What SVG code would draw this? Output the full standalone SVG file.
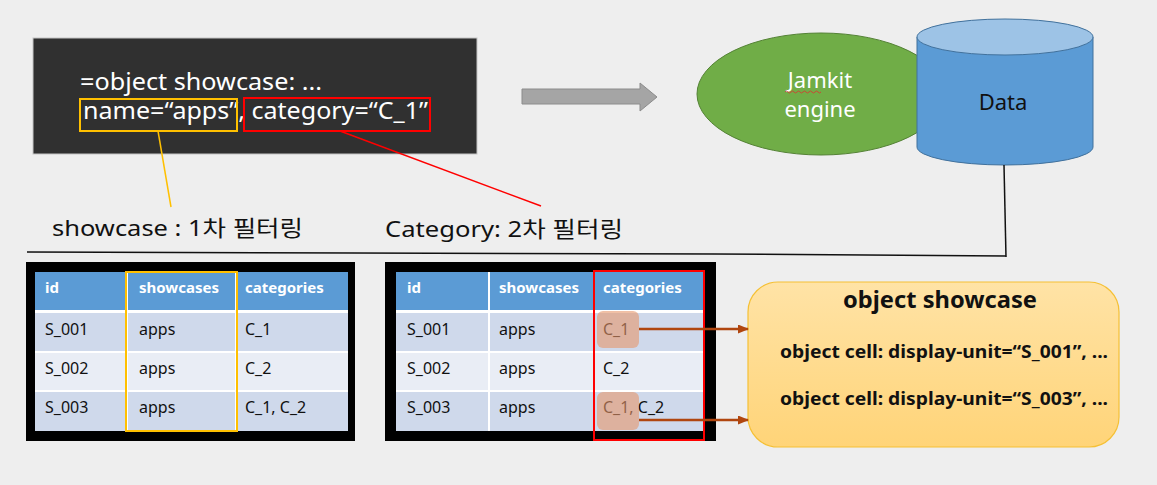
<svg xmlns="http://www.w3.org/2000/svg" width="1157" height="485" viewBox="0 0 1157 485">
<defs>
<style>
text{font-family:"Noto Sans","Noto Sans CJK KR",sans-serif}
.code{font-size:23px;fill:#ffffff}
.lbl{font-size:22px;fill:#111111}
.th{font-size:15px;font-weight:bold;fill:#ffffff}
.td{font-size:16px;fill:#111111}
.hdr{fill:#5b9bd5}
.odd{fill:#cfd9eb}
.even{fill:#e9edf5}
.obj{font-size:18px;font-weight:bold;fill:#111111}
</style>
<linearGradient id="yg" x1="0" y1="0" x2="0" y2="1">
<stop offset="0" stop-color="#ffe3a6"/>
<stop offset="1" stop-color="#ffd478"/>
</linearGradient>
<marker id="ah" markerWidth="11" markerHeight="9" refX="10" refY="4.5" orient="auto" markerUnits="userSpaceOnUse">
<path d="M0,0 L11,4.5 L0,9 Z" fill="#b0460f"/>
</marker>
</defs>
<rect x="0" y="0" width="1157" height="485" fill="#eeeeee"/>

<g id="code-box">
<rect x="33" y="38" width="444" height="116" fill="#303030" stroke="#c4c4c4" stroke-width="1"/>
<text class="code" x="80" y="90" textLength="242" lengthAdjust="spacingAndGlyphs">=object showcase:  ...</text>
<text class="code" x="83" y="119" textLength="345" lengthAdjust="spacingAndGlyphs">name=“apps”, category=“C_1”</text>
<rect x="80" y="99" width="157" height="32" fill="none" stroke="#ffc000" stroke-width="2"/>
<rect x="244" y="98" width="186" height="33" fill="none" stroke="#ff0000" stroke-width="2"/>
</g>

<g id="big-arrow">
<path d="M522,89 L640,89 L640,83 L657,97 L640,111 L640,104 L522,104 Z" fill="#a5a5a5" stroke="#8c8c8c" stroke-width="1"/>
</g>

<g id="jamkit-engine">
<ellipse cx="821" cy="94" rx="124" ry="61" fill="#70ad47" stroke="#548235" stroke-width="1"/>
<text x="820" y="88" font-size="22" fill="#ffffff" text-anchor="middle">Jamkit</text>
<path d="M785,92 q1.5,-2 3,0 t3,0 t3,0 t3,0 t3,0 t3,0 t3,0 t3,0 t3,0 t3,0 t3,0 t3,0" fill="none" stroke="#e03030" stroke-width="0.8"/>
<text x="820" y="117" font-size="22" fill="#ffffff" text-anchor="middle">engine</text>
</g>

<g id="data">
<path d="M917,37 L917,147 A88,18 0 0 0 1093,147 L1093,37" fill="#5b9bd5" stroke="#41719c" stroke-width="1"/>
<ellipse cx="1005" cy="37" rx="88" ry="18" fill="#9dc3e6" stroke="#41719c" stroke-width="1"/>
<text x="1003" y="110" font-size="22" fill="#111111" text-anchor="middle">Data</text>
</g>

<g id="labels">
<text class="lbl" x="52" y="236" textLength="251" lengthAdjust="spacingAndGlyphs">showcase : 1차 필터링</text>
<text class="lbl" x="385" y="237" textLength="238" lengthAdjust="spacingAndGlyphs">Category: 2차 필터링</text>
</g>

<g id="table-1">
<rect x="26" y="262" width="329" height="179" fill="#000000"/>
<rect x="35" y="272" width="313" height="159" fill="#ffffff"/>
<rect class="hdr" x="35" y="272" width="91" height="38"/>
<rect class="hdr" x="128" y="272" width="107" height="38"/>
<rect class="hdr" x="237" y="272" width="111" height="38"/>
<rect class="odd" x="35" y="313" width="91" height="38"/>
<rect class="odd" x="128" y="313" width="107" height="38"/>
<rect class="odd" x="237" y="313" width="111" height="38"/>
<rect class="even" x="35" y="353" width="91" height="37"/>
<rect class="even" x="128" y="353" width="107" height="37"/>
<rect class="even" x="237" y="353" width="111" height="37"/>
<rect class="odd" x="35" y="392" width="91" height="39"/>
<rect class="odd" x="128" y="392" width="107" height="39"/>
<rect class="odd" x="237" y="392" width="111" height="39"/>
<text class="th" x="45" y="293">id</text>
<text class="th" x="139" y="293">showcases</text>
<text class="th" x="245" y="293">categories</text>
<text class="td" x="45" y="335">S_001</text>
<text class="td" x="139" y="335">apps</text>
<text class="td" x="245" y="335">C_1</text>
<text class="td" x="45" y="374">S_002</text>
<text class="td" x="139" y="374">apps</text>
<text class="td" x="245" y="374">C_2</text>
<text class="td" x="45" y="413">S_003</text>
<text class="td" x="139" y="413">apps</text>
<text class="td" x="245" y="413">C_1, C_2</text>
<rect x="126" y="272" width="111" height="159" fill="none" stroke="#ffc000" stroke-width="2"/>
</g>

<g id="table-2">
<rect x="385" y="262" width="331" height="179" fill="#000000"/>
<rect x="396" y="272" width="308" height="159" fill="#ffffff"/>
<rect class="hdr" x="396" y="272" width="92" height="38"/>
<rect class="hdr" x="490" y="272" width="103" height="38"/>
<rect class="hdr" x="595" y="272" width="109" height="38"/>
<rect class="odd" x="396" y="313" width="92" height="38"/>
<rect class="odd" x="490" y="313" width="103" height="38"/>
<rect class="odd" x="595" y="313" width="109" height="38"/>
<rect class="even" x="396" y="353" width="92" height="37"/>
<rect class="even" x="490" y="353" width="103" height="37"/>
<rect class="even" x="595" y="353" width="109" height="37"/>
<rect class="odd" x="396" y="392" width="92" height="39"/>
<rect class="odd" x="490" y="392" width="103" height="39"/>
<rect class="odd" x="595" y="392" width="109" height="39"/>
<text class="th" x="407" y="293">id</text>
<text class="th" x="499" y="293">showcases</text>
<text class="th" x="603" y="293">categories</text>
<text class="td" x="407" y="335">S_001</text>
<text class="td" x="499" y="335">apps</text>
<text class="td" x="603" y="335">C_1</text>
<text class="td" x="407" y="374">S_002</text>
<text class="td" x="499" y="374">apps</text>
<text class="td" x="603" y="374">C_2</text>
<text class="td" x="407" y="413">S_003</text>
<text class="td" x="499" y="413">apps</text>
<text class="td" x="603" y="413">C_1, C_2</text>
<rect x="597" y="311" width="42" height="37" rx="6" fill="#e6966b" fill-opacity="0.6"/>
<rect x="597" y="392" width="42" height="38" rx="6" fill="#e6966b" fill-opacity="0.6"/>
<rect x="594" y="271" width="110" height="169" fill="none" stroke="#ff0000" stroke-width="2"/>
</g>

<g id="object-showcase">
<rect x="748" y="282" width="371" height="165" rx="30" fill="url(#yg)" stroke="#f5c035" stroke-width="1.2"/>
<text x="940" y="308" font-size="23" font-weight="bold" fill="#111111" text-anchor="middle" textLength="194" lengthAdjust="spacingAndGlyphs">object showcase</text>
<text class="obj" x="780" y="358" textLength="328" lengthAdjust="spacingAndGlyphs">object cell: display-unit=“S_001”, ...</text>
<text class="obj" x="780" y="405" textLength="328" lengthAdjust="spacingAndGlyphs">object cell: display-unit=“S_003”, ...</text>
</g>

<g id="connectors" fill="none">
<line x1="158" y1="131" x2="171" y2="207" stroke="#ffc000" stroke-width="1.5"/>
<line x1="340" y1="131" x2="541" y2="206" stroke="#ff0000" stroke-width="1.5"/>
<polyline points="27,252 355,253 715,254 1006,256" stroke="#111111" stroke-width="1.5"/>
<line x1="1004" y1="165" x2="1006" y2="257" stroke="#111111" stroke-width="1.5"/>
<line x1="639" y1="329" x2="748" y2="329" stroke="#b0460f" stroke-width="2.5" marker-end="url(#ah)"/>
<line x1="639" y1="420" x2="748" y2="420" stroke="#b0460f" stroke-width="2.5" marker-end="url(#ah)"/>
</g>
</svg>
